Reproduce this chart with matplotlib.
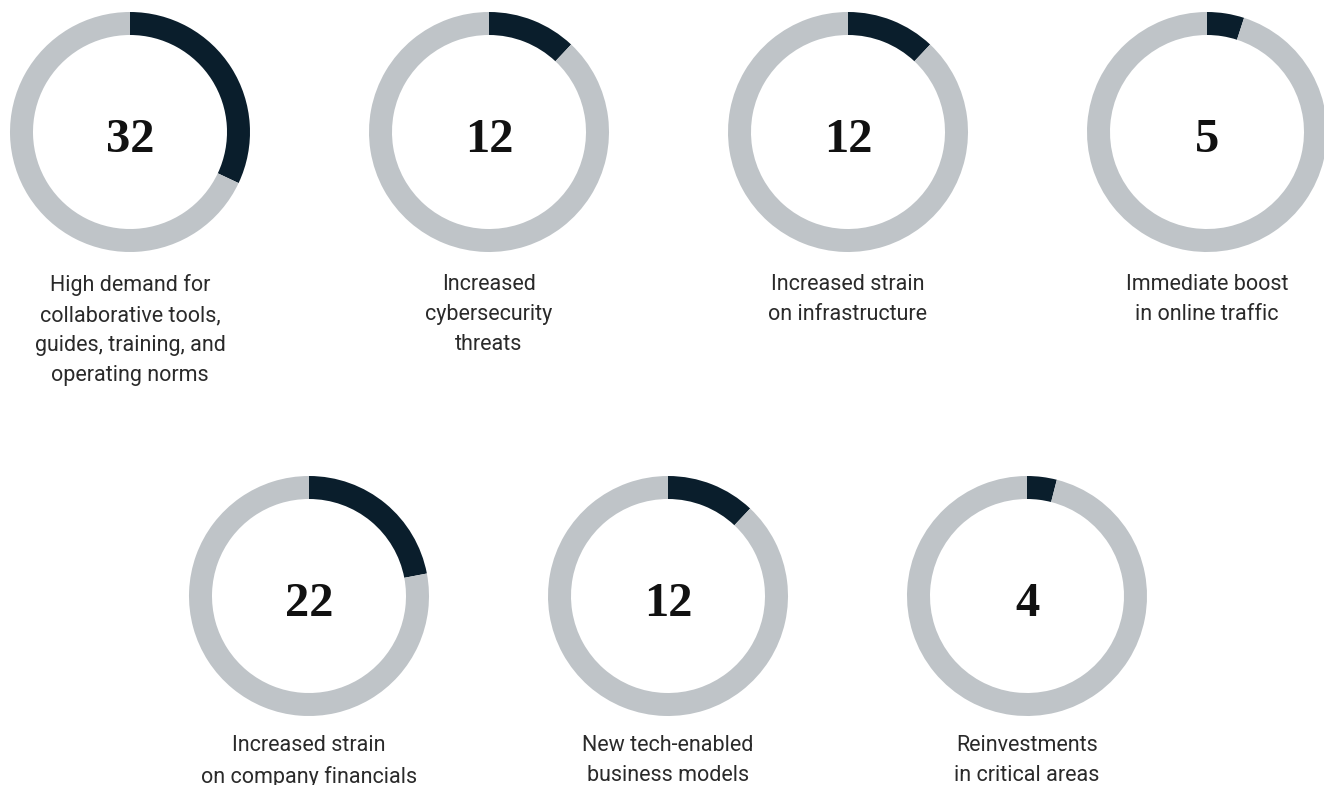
import matplotlib
matplotlib.use("Agg")
import matplotlib.pyplot as plt

# share of respondents (%) per effect
values = [32, 12, 12, 5, 22, 12, 4]
labels = [
    "High demand for\ncollaborative tools,\nguides, training, and\noperating norms",
    "Increased\ncybersecurity\nthreats",
    "Increased strain\non infrastructure",
    "Immediate boost\nin online traffic",
    "Increased strain\non company financials",
    "New tech-enabled\nbusiness models",
    "Reinvestments\nin critical areas",
]

W, H = 1324, 785
DARK = "#0a1e2c"
GRAY = "#bfc4c8"

# donut centres in pixel coords (top-left origin)
centres = [(130, 132), (489, 132), (848, 132), (1207, 132),
           (309, 596), (668, 596), (1027, 596)]
label_gap = [22, 22, 22, 22, 19, 19, 19]
R_OUT = 120
RING = 23

fig = plt.figure(figsize=(W / 100, H / 100), dpi=100)
ax = fig.add_axes([0, 0, 1, 1])

for v, lab, (cx, cy), gap in zip(values, labels, centres, label_gap):
    y = H - cy
    ax.pie([v, 100 - v], colors=[DARK, GRAY], startangle=90, counterclock=False,
           radius=R_OUT, center=(cx, y), frame=True,
           wedgeprops=dict(width=RING, linewidth=0))
    ax.text(cx, y - 3, str(v), ha="center", va="center_baseline", fontsize=35,
            fontweight="bold", family="Liberation Serif", color="#111111")
    ax.text(cx, y - R_OUT - gap, lab, ha="center", va="top", fontsize=15.5,
            family="Roboto", color="#2a2a2a", linespacing=1.56)

ax.set_xlim(0, W)
ax.set_ylim(0, H)
ax.set_aspect("equal")
ax.axis("off")

fig.savefig("out.png", dpi=100, facecolor="white")
